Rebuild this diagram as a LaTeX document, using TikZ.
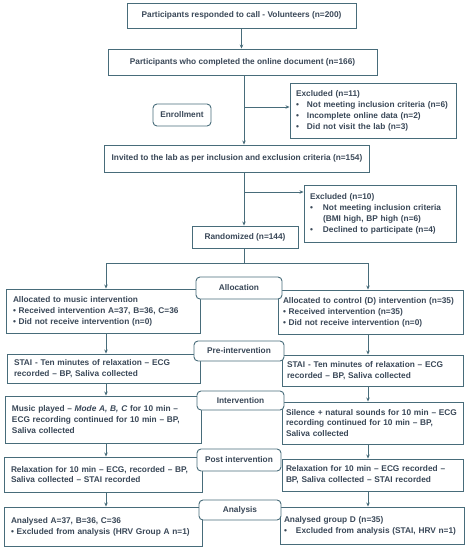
\documentclass[tikz,border=0pt]{standalone}
\usepackage{fontspec}
\setmainfont{Liberation Sans}
\usepackage{xcolor}
\definecolor{boxline}{RGB}{72,108,122}
\definecolor{boxtext}{RGB}{58,72,88}
\usetikzlibrary{arrows.meta,positioning,calc}
\tikzset{
  >={Stealth[length=4pt,width=3.5pt]},
  stage/.style={rectangle,draw=boxline,line width=0.9pt,fill=white,text=boxtext,font=\fontsize{8.3}{10.9}\selectfont\bfseries,inner xsep=7pt,inner ysep=2pt,align=left},
  headbox/.style={stage,align=center},
  phase/.style={stage,rounded corners=4pt,align=center,inner xsep=2pt},
  flow/.style={->,line width=0.9pt,draw=boxline},
  link/.style={line width=0.9pt,draw=boxline}
}

\begin{document}
\begin{tikzpicture}[x=1pt,y=-1pt]
  \useasboundingbox (0,0) rectangle (469,550);

  \node[headbox,minimum width=229pt,minimum height=25pt] (call) at (241.5,15.5) {Participants responded to call - Volunteers (n=200)};
  \node[headbox,minimum width=269pt,minimum height=26pt] (online) at (242.5,62) {Participants who completed the online document (n=166)};
  \node[stage,minimum width=166pt,minimum height=55pt,inner xsep=6pt,text width=154pt] (excl1) at (373,110.5) {Excluded (n=11)\\
    \makebox[11pt][l]{\textbullet}Not meeting inclusion criteria (n=6)\\
    \makebox[11pt][l]{\textbullet}Incomplete online data (n=2)\\
    \makebox[11pt][l]{\textbullet}Did not visit the lab (n=3)};
  \node[headbox,minimum width=262pt,minimum height=27pt] (invited) at (237,158.5) {Invited to the lab as per inclusion and exclusion criteria (n=154)};
  \node[stage,minimum width=152pt,minimum height=57pt,inner xsep=6pt,text width=140pt] (excl2) at (380,213.5) {Excluded (n=10)\\
    \makebox[13pt][l]{\textbullet}Not meeting inclusion criteria\\
    \hspace*{13pt}(BMI high, BP high (n=6)\\
    \makebox[13pt][l]{\textbullet}Declined to participate (n=4)};
  \node[headbox,minimum width=106pt,minimum height=22pt] (rand) at (245,237) {Randomized (n=144)};

  \node[stage,minimum width=194pt,minimum height=44pt,text width=180pt] (musA) at (103,311) {Allocated to music intervention\\
    \textbullet\ Received intervention A=37, B=36, C=36\\
    \textbullet\ Did not receive intervention (n=0)};
  \node[stage,minimum width=185pt,minimum height=44pt,inner xsep=5pt,text width=175pt] (ctrlA) at (370.5,312) {Allocated to control (D) intervention (n=35)\\
    \textbullet\ Received intervention (n=35)\\
    \textbullet\ Did not receive intervention (n=0)};
  \node[stage,minimum width=193pt,minimum height=29pt,text width=179pt] (musPre) at (103.5,368.5) {STAI - Ten minutes of relaxation -- ECG\\recorded -- BP, Saliva collected};
  \node[stage,minimum width=181pt,minimum height=31pt,inner xsep=5pt,text width=171pt] (ctrlPre) at (372.5,370.5) {STAI - Ten minutes of relaxation -- ECG\\recorded -- BP, Saliva collected};
  \node[stage,minimum width=196pt,minimum height=47pt,text width=182pt] (musInt) at (103,419.5) {Music played -- \textit{Mode A, B, C} for 10 min --\\ECG recording continued for 10 min -- BP,\\Saliva collected};
  \node[stage,minimum width=181pt,minimum height=42pt,inner xsep=4pt,text width=173pt] (ctrlInt) at (372.5,423) {Silence + natural sounds for 10 min -- ECG\\recording continued for 10 min -- BP,\\Saliva collected};
  \node[stage,minimum width=198pt,minimum height=35pt,text width=184pt] (musPost) at (103,474.5) {Relaxation for 10 min -- ECG, recorded -- BP,\\Saliva collected -- STAI recorded};
  \node[stage,minimum width=181pt,minimum height=32pt,inner xsep=4pt,text width=173pt] (ctrlPost) at (372.5,475) {Relaxation for 10 min -- ECG recorded --\\BP, Saliva collected -- STAI recorded};
  \node[stage,minimum width=198pt,minimum height=39pt,text width=184pt] (musAn) at (103,526.5) {Analysed A=37, B=36, C=36\\
    \textbullet\ Excluded from analysis (HRV Group A n=1)};
  \node[stage,minimum width=184pt,minimum height=37pt,inner xsep=4pt,text width=176pt] (ctrlAn) at (372,525.5) {Analysed group D (n=35)\\
    \makebox[12pt][l]{\textbullet}Excluded from analysis (STAI, HRV n=1)};

  \coordinate (cut1) at (244,107);
  \coordinate (cut2) at (244,192);
  \coordinate (split) at (244,263);
  \coordinate (lcol) at (106,263);
  \coordinate (rcol) at (368,263);

  \draw[flow] (call.south) -- (call.south |- online.north);
  \draw[flow] (cut1 |- online.south) -- (cut1 |- invited.north);
  \draw[flow] (cut1) -- (cut1 -| excl1.west);
  \draw[flow] (cut2 |- invited.south) -- (cut2 |- rand.north);
  \draw[flow] (cut2) -- (cut2 -| excl2.west);
  \draw[link] (split |- rand.south) -- (split);
  \draw[link] (lcol) -- (rcol);
  \draw[flow] (lcol) -- (lcol |- musA.north);
  \draw[flow] (rcol) -- (rcol |- ctrlA.north);
  \foreach \a/\b in {musA/musPre,musPre/musInt,musInt/musPost,musPost/musAn}
    \draw[flow] (lcol |- \a.south) -- (lcol |- \b.north);
  \foreach \a/\b in {ctrlA/ctrlPre,ctrlPre/ctrlInt,ctrlInt/ctrlPost,ctrlPost/ctrlAn}
    \draw[flow] (rcol |- \a.south) -- (rcol |- \b.north);

  \node[phase,minimum width=58pt,minimum height=22pt] (enroll) at (182,115) {Enrollment};
  \node[phase,minimum width=86pt,minimum height=22pt] (alloc) at (239,288) {Allocation};
  \node[phase,minimum width=90pt,minimum height=20pt] (pre) at (239,351) {Pre-intervention};
  \node[phase,minimum width=87pt,minimum height=19pt] (inter) at (240.5,400.5) {Intervention};
  \node[phase,minimum width=84pt,minimum height=22pt] (post) at (239,460) {Post intervention};
  \node[phase,minimum width=82pt,minimum height=20pt] (anal) at (240,510) {Analysis};
\end{tikzpicture}
\end{document}
